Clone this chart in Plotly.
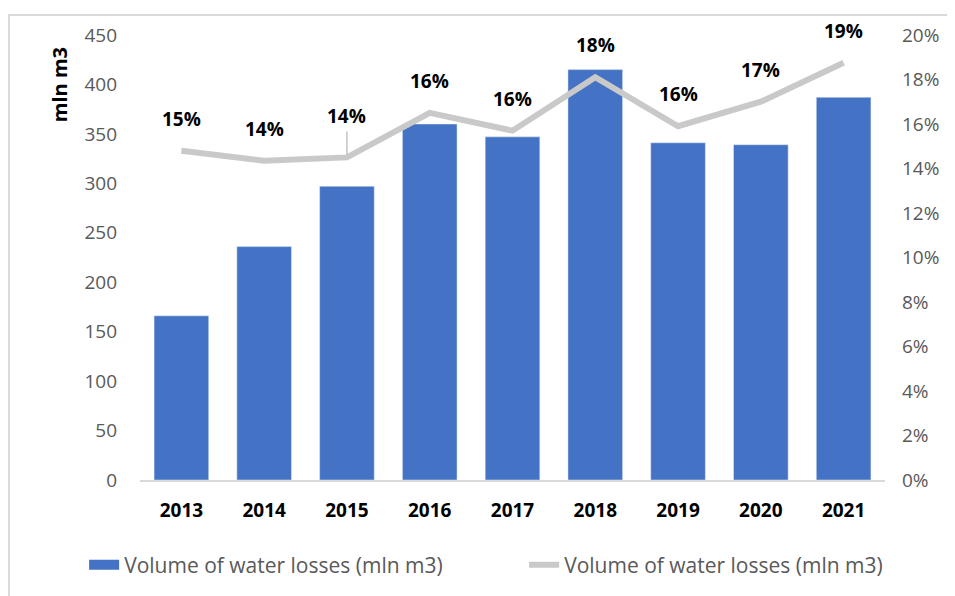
import plotly.graph_objects as go

years = ['2013', '2014', '2015', '2016', '2017', '2018', '2019', '2020', '2021']
volume = [166, 236, 297, 360, 347, 415, 341, 339, 387]
share = [14.8, 14.35, 14.5, 16.5, 15.7, 18.1, 15.9, 17.0, 18.75]
share_labels = ['15%', '14%', '14%', '16%', '16%', '18%', '16%', '17%', '19%']
left_ticks = [0, 50, 100, 150, 200, 250, 300, 350, 400, 450]
right_ticks = [0, 2, 4, 6, 8, 10, 12, 14, 16, 18, 20]

BAR = '#4472C4'
LINE = '#C9C9C9'
GREY_TXT = '#595959'
FONT = 'Open Sans'
LEG_NAME = 'Volume of water losses (mln m3)'

fig = go.Figure()
fig.add_trace(go.Bar(
    x=years, y=volume, name=LEG_NAME, showlegend=False,
    marker=dict(color=BAR), width=0.66,
))
# wide legend swatch for the bars (plotly's bar swatch is a small square)
fig.add_trace(go.Scatter(
    x=[None], y=[None], name=LEG_NAME, mode='lines',
    line=dict(color=BAR, width=15),
))
fig.add_trace(go.Scatter(
    x=years, y=share, name=LEG_NAME,
    mode='lines', line=dict(color=LINE, width=6), yaxis='y2',
))

# data labels; x given as category index so numeric-looking years aren't misread
for i, (v, lab) in enumerate(zip(share, share_labels)):
    if years[i] == '2015':
        fig.add_annotation(
            x=i, y=v, yref='y2', text=f'<b>{lab}</b>', showarrow=True,
            arrowhead=0, arrowwidth=1, arrowcolor='#a6a6a6', ax=0, ay=-26,
            yanchor='bottom', font=dict(size=19, color='black', family=FONT),
            standoff=3,
        )
    else:
        fig.add_annotation(
            x=i, y=v, yref='y2', text=f'<b>{lab}</b>', showarrow=False,
            yshift=32, font=dict(size=19, color='black', family=FONT),
        )

fig.add_annotation(
    xref='paper', yref='paper', x=-0.107, y=0.888, text='<b>mln m3</b>',
    xanchor='center', yanchor='middle',
    textangle=-90, showarrow=False, font=dict(size=20, color='black', family=FONT),
)

# outer chart border
fig.add_shape(
    type='rect', xref='paper', yref='paper',
    x0=-0.176, x1=1.093, y0=-0.3, y1=1.045,
    line=dict(color='#D9D9D9', width=2), layer='below',
)

# the page body adds an 8px margin, so the figure is sized 8px smaller
fig.update_layout(
    width=947, height=588,
    margin=dict(l=132, r=70, t=27, b=116, autoexpand=False),
    paper_bgcolor='white', plot_bgcolor='white',
    font=dict(family=FONT, color=GREY_TXT),
    showlegend=True,
    legend=dict(
        orientation='h', x=-0.075, xanchor='left', y=-0.145, yanchor='top',
        font=dict(size=21, color=GREY_TXT, family=FONT),
        traceorder='normal', entrywidth=395, entrywidthmode='pixels',
    ),
    xaxis=dict(
        type='category', range=[-0.5, len(years) - 0.5], automargin=False,
        showline=True, linecolor='#D9D9D9', linewidth=2, ticks='',
        tickfont=dict(size=19, color='black', family=FONT, weight='bold'),
        ticklabelstandoff=12,
    ),
    yaxis=dict(
        range=[0, 450], tickvals=left_ticks, showgrid=False, zeroline=False,
        automargin=False,
        tickfont=dict(size=19, color=GREY_TXT), ticklabelstandoff=22,
    ),
    yaxis2=dict(
        range=[0, 20], tickvals=right_ticks, ticktext=[f'{t}%' for t in right_ticks],
        overlaying='y', side='right', showgrid=False, zeroline=False,
        automargin=False,
        tickfont=dict(size=19, color=GREY_TXT), ticklabelstandoff=16,
    ),
)

fig.write_html('out.html')
